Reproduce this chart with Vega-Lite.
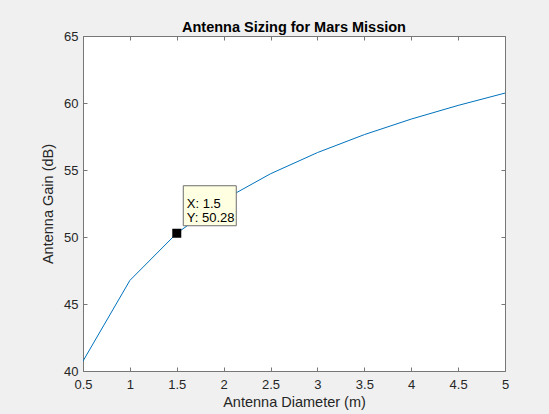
{
  "$schema": "https://vega.github.io/schema/vega-lite/v6.json",
  "autosize": {"type": "none"},
  "width": 422,
  "height": 335,
  "padding": {"left": 83, "top": 36, "right": 44, "bottom": 43},
  "background": "#f0f0f0",
  "config": {
    "view": {"stroke": null, "fill": "white"},
    "font": "Liberation Sans",
    "axis": {
      "grid": false,
      "domainColor": "#777777",
      "tickColor": "#777777",
      "tickSize": -4,
      "labelFlush": false,
      "labelFont": "Liberation Sans",
      "labelFontSize": 13,
      "labelColor": "#262626",
      "titleFont": "Liberation Sans",
      "titleFontSize": 14.5,
      "titleFontWeight": "normal",
      "titleColor": "#262626"
    }
  },
  "title": {
    "text": "Antenna Sizing for Mars Mission",
    "font": "Liberation Sans",
    "fontSize": 14.5,
    "fontWeight": "bold",
    "color": "#000000",
    "anchor": "middle",
    "offset": -5
  },
  "datasets": {
    "gain": [
      {"D": 0.5, "G": 40.74},
      {"D": 1.0, "G": 46.76},
      {"D": 1.5, "G": 50.28},
      {"D": 2.0, "G": 52.78},
      {"D": 2.5, "G": 54.72},
      {"D": 3.0, "G": 56.30},
      {"D": 3.5, "G": 57.64},
      {"D": 4.0, "G": 58.80},
      {"D": 4.5, "G": 59.82},
      {"D": 5.0, "G": 60.74}
    ],
    "tip": [
      {"D": 1.5, "G": 50.28}
    ]
  },
  "resolve": {"axis": {"x": "independent", "y": "independent"}},
  "layer": [
    {
      "data": {"name": "gain"},
      "mark": {"type": "line", "color": "#0072BD", "strokeWidth": 1, "clip": true},
      "encoding": {
        "x": {
          "field": "D", "type": "quantitative",
          "scale": {"domain": [0.5, 5], "nice": false, "zero": false},
          "axis": {
            "orient": "bottom",
            "title": "Antenna Diameter (m)",
            "values": [0.5, 1, 1.5, 2, 2.5, 3, 3.5, 4, 4.5, 5],
            "format": "~g",
            "labelPadding": 11,
            "titlePadding": 4
          }
        },
        "y": {
          "field": "G", "type": "quantitative",
          "scale": {"domain": [40, 65], "nice": false, "zero": false},
          "axis": {
            "orient": "left",
            "title": "Antenna Gain (dB)",
            "values": [40, 45, 50, 55, 60, 65],
            "labelPadding": 9,
            "titlePadding": 8
          }
        }
      }
    },
    {
      "data": {"name": "gain"},
      "mark": {"type": "point", "opacity": 0, "size": 0},
      "encoding": {
        "x": {
          "field": "D", "type": "quantitative",
          "axis": {
            "orient": "top", "title": null, "labels": false,
            "values": [0.5, 1, 1.5, 2, 2.5, 3, 3.5, 4, 4.5, 5]
          }
        },
        "y": {
          "field": "G", "type": "quantitative",
          "axis": {
            "orient": "right", "title": null, "labels": false,
            "values": [40, 45, 50, 55, 60, 65]
          }
        }
      }
    },
    {
      "data": {"name": "tip"},
      "mark": {"type": "point", "shape": "square", "filled": true, "size": 81, "color": "#000000", "opacity": 1},
      "encoding": {
        "x": {"field": "D", "type": "quantitative", "axis": null},
        "y": {"field": "G", "type": "quantitative", "axis": null}
      }
    },
    {
      "data": {"name": "tip"},
      "mark": {"type": "rect", "width": 53, "height": 40, "xOffset": 33, "yOffset": -27.5, "fill": "#ffffe1", "stroke": "#6e6e6e", "strokeWidth": 1},
      "encoding": {
        "x": {"field": "D", "type": "quantitative", "axis": null},
        "y": {"field": "G", "type": "quantitative", "axis": null}
      }
    },
    {
      "data": {"name": "tip"},
      "transform": [
        {"calculate": "'X: ' + format(datum.D, '~g') + '\\nY: ' + format(datum.G, '.2f')", "as": "label"}
      ],
      "mark": {"type": "text", "align": "left", "baseline": "alphabetic", "dx": 10, "dy": -25, "lineBreak": "\n", "lineHeight": 14, "fontSize": 13, "font": "Liberation Sans", "color": "#000000"},
      "encoding": {
        "x": {"field": "D", "type": "quantitative", "axis": null},
        "y": {"field": "G", "type": "quantitative", "axis": null},
        "text": {"field": "label"}
      }
    }
  ]
}
